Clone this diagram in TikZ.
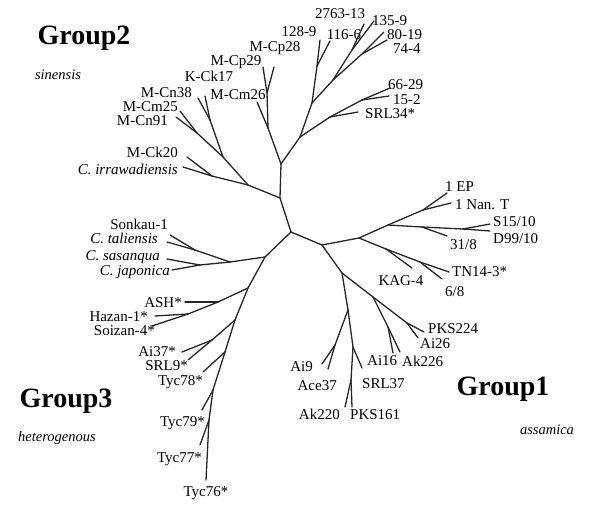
\documentclass[tikz,border=0pt]{standalone}
\usepackage{fontspec}
\setmainfont{Liberation Serif}

\begin{document}
\begin{tikzpicture}[x=1pt, y=-1pt,
    br/.style={line width=1.3pt, line cap=round, black!85},
    lbl/.style={font=\fontsize{15}{17}\selectfont, inner sep=0pt, text height=10pt, text depth=0pt},
    grp/.style={font=\fontsize{28}{30}\selectfont\bfseries, inner sep=0pt},
    sub/.style={font=\fontsize{14.5}{16}\selectfont\itshape, inner sep=0pt}]
    \useasboundingbox (0,0) rectangle (592,506);

    % group names
    \node[grp] (G2) at (84,38)   {Group2};
    \node[sub] (S2) at (58,75)   {sinensis};
    \node[grp] (G3) at (66,401)  {Group3};
    \node[sub] (S3) at (57,438)  {heterogenous};
    \node[grp] (G1) at (503,389) {Group1};
    \node[sub] (S1) at (547,430) {assamica};

    % junctions
    \coordinate (r)  at (291,232);
    \coordinate (a2) at (280,198);
    \coordinate (b2) at (281,164);
    \coordinate (c2) at (268,128);
    \coordinate (d2) at (267,93);
    \coordinate (e2) at (300,137);
    \coordinate (f2) at (312,103);
    \coordinate (g2) at (317,66);
    \coordinate (h2) at (333,80);
    \coordinate (i2) at (352,50);
    \coordinate (j2) at (362,54);
    \coordinate (k2) at (330,117);
    \coordinate (l2) at (362,100);
    \coordinate (m2) at (248,185);
    \coordinate (n2) at (223,157);
    \coordinate (o2) at (197,133);
    \coordinate (p2) at (210,120);
    \coordinate (q2) at (212,176);
    \coordinate (a3) at (265,257);
    \coordinate (b3) at (230,262);
    \coordinate (c3) at (195,250);
    \coordinate (d3) at (200,265);
    \coordinate (e3) at (248,288);
    \coordinate (f3) at (218,302);
    \coordinate (g3) at (188,314);
    \coordinate (h3) at (235,320);
    \coordinate (i3) at (212,340);
    \coordinate (j3) at (225,352);
    \coordinate (k3) at (213,390);
    \coordinate (l3) at (209,420);
    \coordinate (a1) at (322,245);
    \coordinate (b1) at (359,238);
    \coordinate (c1) at (388,225);
    \coordinate (d1) at (423,210);
    \coordinate (e1) at (422,227);
    \coordinate (f1) at (463,229);
    \coordinate (g1) at (386,249);
    \coordinate (h1) at (420,262);
    \coordinate (i1) at (342,273);
    \coordinate (j1) at (373,297);
    \coordinate (k1) at (407,323);
    \coordinate (l1) at (388,327);
    \coordinate (m1) at (348,310);
    \coordinate (n1) at (335,345);
    \coordinate (o1) at (353,347);
    \coordinate (p1) at (351,380);

    % tips
    \coordinate (tCp29)  at (263,67);
    \coordinate (tCp28)  at (274,67);
    \coordinate (tCm26)  at (257,102);
    \coordinate (t128)   at (320,40);
    \coordinate (t116)   at (330,41);
    \coordinate (t2763)  at (364,24);
    \coordinate (t135)   at (374,21);
    \coordinate (t8019)  at (384,32);
    \coordinate (t744)   at (387,40);
    \coordinate (tSRL34) at (358,112);
    \coordinate (t6629)  at (390,88);
    \coordinate (t152)   at (389,96);
    \coordinate (tCm25)  at (180,111);
    \coordinate (tCn91)  at (176,117);
    \coordinate (tCn38)  at (198,98);
    \coordinate (tCk17)  at (205,96);
    \coordinate (tCk20)  at (187,157);
    \coordinate (tIrr)   at (183,167);
    \coordinate (tSon)   at (170,235);
    \coordinate (tTal)   at (167,242);
    \coordinate (tSas)   at (167,259);
    \coordinate (tJap)   at (172,270);
    \coordinate (tASH)   at (185,302);
    \coordinate (tHaz)   at (155,316);
    \coordinate (tSoi)   at (152,326);
    \coordinate (tAi37)  at (182,352);
    \coordinate (tSRL9)  at (188,360);
    \coordinate (tTyc78) at (203,372);
    \coordinate (tTyc79) at (202,410);
    \coordinate (tTyc77) at (200,445);
    \coordinate (tTyc76) at (206,480);
    \coordinate (t1EP)   at (447,193);
    \coordinate (tNan)   at (451,203);
    \coordinate (tS15)   at (490,224);
    \coordinate (tD99)   at (490,231);
    \coordinate (t318)   at (447,236);
    \coordinate (tKAG)   at (412,268);
    \coordinate (tTN)    at (449,272);
    \coordinate (t68)    at (442,279);
    \coordinate (tPKS224) at (424,332);
    \coordinate (tAi26)  at (418,338);
    \coordinate (tAi16)  at (393,353);
    \coordinate (tAk226) at (400,352);
    \coordinate (tAi9)   at (322,364);
    \coordinate (tAce37) at (328,369);
    \coordinate (tSRL37) at (362,368);
    \coordinate (tAk220) at (345,407);
    \coordinate (tPKS161) at (352,407);

    % taxa
    \node[lbl, anchor=east] (Cn38) at (192,92)  {M-Cn38};
    \node[lbl]              (Ck17) at (209,76)  {K-Ck17};
    \node[lbl, anchor=east] (Cm25) at (178,106) {M-Cm25};
    \node[lbl, anchor=east] (Cn91) at (168,120) {M-Cn91};
    \node[lbl, anchor=east] (Ck20) at (178,152) {M-Ck20};
    \node[lbl, anchor=east] (Irr)  at (178,169) {\textit{C. irrawadiensis}};
    \node[lbl]              (Cm26) at (238,94)  {M-Cm26};
    \node[lbl]              (Cp29) at (236,60)  {M-Cp29};
    \node[lbl]              (Cp28) at (275,46)  {M-Cp28};
    \node[lbl]              (n128) at (299,31)  {128-9};
    \node[lbl]              (n116) at (344,34)  {116-6};
    \node[lbl]              (n2763) at (340,14) {2763-13};
    \node[lbl, anchor=west] (n135) at (372,20)  {135-9};
    \node[lbl, anchor=west] (n8019) at (387,34) {80-19};
    \node[lbl, anchor=west] (n744) at (393,48)  {74-4};
    \node[lbl, anchor=west] (n6629) at (388,84) {66-29};
    \node[lbl, anchor=west] (n152) at (393,99)  {15-2};
    \node[lbl, anchor=west] (SRL34) at (365,113) {SRL34*};
    \node[lbl, anchor=east] (Son)  at (168,224) {Sonkau-1};
    \node[lbl, anchor=east] (Tal)  at (158,238) {\textit{C. taliensis}};
    \node[lbl, anchor=east] (Sas)  at (160,255) {\textit{C. sasanqua}};
    \node[lbl, anchor=east] (Jap)  at (170,270) {\textit{C. japonica}};
    \node[lbl, anchor=east] (ASH)  at (182,302) {ASH*};
    \node[lbl, anchor=east] (Haz)  at (148,316) {Hazan-1*};
    \node[lbl, anchor=east] (Soi)  at (155,330) {Soizan-4*};
    \node[lbl, anchor=east] (Ai37) at (176,351) {Ai37*};
    \node[lbl, anchor=east] (SRL9) at (188,365) {SRL9*};
    \node[lbl, anchor=east] (Tyc78) at (203,380) {Tyc78*};
    \node[lbl, anchor=east] (Tyc79) at (205,421) {Tyc79*};
    \node[lbl, anchor=east] (Tyc77) at (202,457) {Tyc77*};
    \node[lbl]              (Tyc76) at (206,491) {Tyc76*};
    \node[lbl, anchor=west] (EP)   at (445,186) {1 EP};
    \node[lbl, anchor=west] (Nan)  at (455,204) {1 Nan. T};
    \node[lbl, anchor=west] (S15)  at (493,221) {S15/10};
    \node[lbl, anchor=west] (D99)  at (493,238) {D99/10};
    \node[lbl, anchor=west] (n318) at (450,244) {31/8};
    \node[lbl, anchor=west] (TN)   at (452,271) {TN14-3*};
    \node[lbl]              (KAG)  at (401,280) {KAG-4};
    \node[lbl, anchor=west] (n68)  at (445,291) {6/8};
    \node[lbl, anchor=west] (PKS224) at (428,328) {PKS224};
    \node[lbl, anchor=west] (Ai26) at (420,343) {Ai26};
    \node[lbl, anchor=west] (Ai16) at (367,360) {Ai16};
    \node[lbl, anchor=west] (Ak226) at (402,361) {Ak226};
    \node[lbl, anchor=west] (SRL37) at (362,383) {SRL37};
    \node[lbl, anchor=east] (Ai9)  at (313,366) {Ai9};
    \node[lbl, anchor=east] (Ace37) at (337,385) {Ace37};
    \node[lbl, anchor=east] (Ak220) at (340,414) {Ak220};
    \node[lbl, anchor=west] (PKS161) at (350,414) {PKS161};

    % branches
    \draw[br] (r) to (a2);
    \draw[br] (r) to (a3);
    \draw[br] (r) to (a1);

    \draw[br] (a2) to (b2);
    \draw[br] (a2) to (m2);
    \draw[br] (b2) to (c2);
    \draw[br] (b2) to (e2);
    \draw[br] (c2) to (d2);
    \draw[br] (c2) to (tCm26);
    \draw[br] (d2) to (tCp29);
    \draw[br] (d2) to (tCp28);
    \draw[br] (e2) to (f2);
    \draw[br] (e2) to (k2);
    \draw[br] (f2) to (g2);
    \draw[br] (f2) to (h2);
    \draw[br] (g2) to (t128);
    \draw[br] (g2) to (t116);
    \draw[br] (h2) to (i2);
    \draw[br] (h2) to (j2);
    \draw[br] (i2) to (t2763);
    \draw[br] (i2) to (t135);
    \draw[br] (j2) to (t8019);
    \draw[br] (j2) to (t744);
    \draw[br] (k2) to (tSRL34);
    \draw[br] (k2) to (l2);
    \draw[br] (l2) to (t6629);
    \draw[br] (l2) to (t152);
    \draw[br] (m2) to (n2);
    \draw[br] (m2) to (q2);
    \draw[br] (n2) to (o2);
    \draw[br] (n2) to (p2);
    \draw[br] (o2) to (tCm25);
    \draw[br] (o2) to (tCn91);
    \draw[br] (p2) to (tCn38);
    \draw[br] (p2) to (tCk17);
    \draw[br] (q2) to (tCk20);
    \draw[br] (q2) to (tIrr);

    \draw[br] (a3) to (b3);
    \draw[br] (a3) to (e3);
    \draw[br] (b3) to (c3);
    \draw[br] (b3) to (d3);
    \draw[br] (c3) to (tSon);
    \draw[br] (c3) to (tTal);
    \draw[br] (d3) to (tSas);
    \draw[br] (d3) to (tJap);
    \draw[br] (e3) to (f3);
    \draw[br] (e3) to (h3);
    \draw[br] (f3) to (tASH);
    \draw[br] (f3) to (g3);
    \draw[br] (g3) to (tHaz);
    \draw[br] (g3) to (tSoi);
    \draw[br] (h3) to (i3);
    \draw[br] (h3) to (j3);
    \draw[br] (i3) to (tAi37);
    \draw[br] (i3) to (tSRL9);
    \draw[br] (j3) to (tTyc78);
    \draw[br] (j3) to (k3);
    \draw[br] (k3) to (tTyc79);
    \draw[br] (k3) to (l3);
    \draw[br] (l3) to (tTyc77);
    \draw[br] (l3) to (tTyc76);

    \draw[br] (a1) to (b1);
    \draw[br] (a1) to (i1);
    \draw[br] (b1) to (c1);
    \draw[br] (b1) to (g1);
    \draw[br] (c1) to (d1);
    \draw[br] (c1) to (e1);
    \draw[br] (d1) to (t1EP);
    \draw[br] (d1) to (tNan);
    \draw[br] (e1) to (f1);
    \draw[br] (e1) to (t318);
    \draw[br] (f1) to (tS15);
    \draw[br] (f1) to (tD99);
    \draw[br] (g1) to (tKAG);
    \draw[br] (g1) to (h1);
    \draw[br] (h1) to (tTN);
    \draw[br] (h1) to (t68);
    \draw[br] (i1) to (j1);
    \draw[br] (i1) to (m1);
    \draw[br] (j1) to (k1);
    \draw[br] (j1) to (l1);
    \draw[br] (k1) to (tPKS224);
    \draw[br] (k1) to (tAi26);
    \draw[br] (l1) to (tAi16);
    \draw[br] (l1) to (tAk226);
    \draw[br] (m1) to (n1);
    \draw[br] (m1) to (o1);
    \draw[br] (n1) to (tAi9);
    \draw[br] (n1) to (tAce37);
    \draw[br] (o1) to (tSRL37);
    \draw[br] (o1) to (p1);
    \draw[br] (p1) to (tAk220);
    \draw[br] (p1) to (tPKS161);
\end{tikzpicture}
\end{document}
